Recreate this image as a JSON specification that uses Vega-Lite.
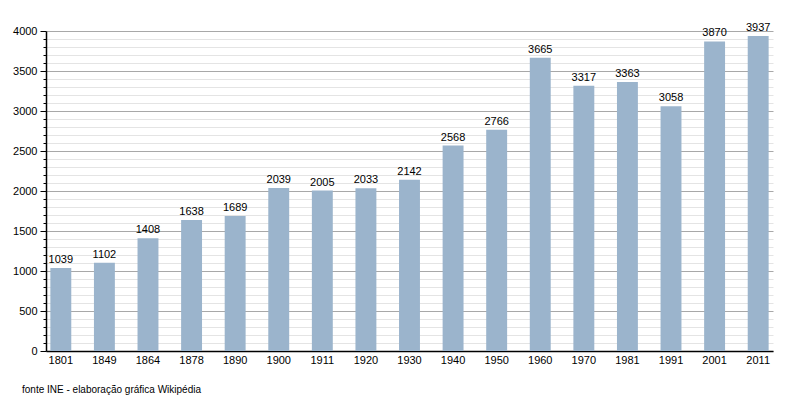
{
  "$schema": "https://vega.github.io/schema/vega-lite/v6.json",
  "autosize": "none",
  "width": 727,
  "height": 320,
  "padding": {"left": 46, "top": 31, "right": 27, "bottom": 49},
  "background": "white",
  "config": {"view": {"stroke": null}, "font": "Liberation Sans"},
  "title": {
    "text": "fonte INE - elaboração gráfica Wikipédia",
    "orient": "bottom",
    "anchor": "start",
    "frame": "group",
    "fontSize": 10,
    "fontWeight": "normal",
    "color": "#000",
    "dx": -24,
    "offset": 20
  },
  "data": {
    "values": [
      {"ano": "1801", "pop": 1039},
      {"ano": "1849", "pop": 1102},
      {"ano": "1864", "pop": 1408},
      {"ano": "1878", "pop": 1638},
      {"ano": "1890", "pop": 1689},
      {"ano": "1900", "pop": 2039},
      {"ano": "1911", "pop": 2005},
      {"ano": "1920", "pop": 2033},
      {"ano": "1930", "pop": 2142},
      {"ano": "1940", "pop": 2568},
      {"ano": "1950", "pop": 2766},
      {"ano": "1960", "pop": 3665},
      {"ano": "1970", "pop": 3317},
      {"ano": "1981", "pop": 3363},
      {"ano": "1991", "pop": 3058},
      {"ano": "2001", "pop": 3870},
      {"ano": "2011", "pop": 3937}
    ]
  },
  "encoding": {
    "x": {
      "field": "ano",
      "type": "ordinal",
      "sort": null,
      "scale": {"paddingInner": 0.52, "paddingOuter": 0.1},
      "axis": {
        "title": null,
        "labelAngle": 0,
        "ticks": false,
        "labelPadding": 3,
        "labelFontSize": 11,
        "labelColor": "#000",
        "domainColor": "#000",
        "domainWidth": 1.5,
        "grid": false
      }
    },
    "y": {
      "field": "pop",
      "type": "quantitative",
      "scale": {"domain": [0, 4000], "nice": false},
      "axis": {
        "title": null,
        "values": [0,100,200,300,400,500,600,700,800,900,1000,1100,1200,1300,1400,1500,1600,1700,1800,1900,2000,2100,2200,2300,2400,2500,2600,2700,2800,2900,3000,3100,3200,3300,3400,3500,3600,3700,3800,3900,4000],
        "labelExpr": "datum.value % 500 === 0 ? datum.label : ''",
        "format": "d",
        "grid": true,
        "gridColor": {"condition": {"test": "datum.value % 500 === 0", "value": "#a8a8a8"}, "value": "#e4e4e4"},
        "gridWidth": 1,
        "tickColor": "#000",
        "tickSize": {"condition": {"test": "datum.value % 500 === 0", "value": 6}, "value": 3},
        "labelPadding": 3,
        "labelFontSize": 11,
        "labelColor": "#000",
        "labelOverlap": false,
        "domainColor": "#000",
        "domainWidth": 1.5
      }
    }
  },
  "layer": [
    {"mark": {"type": "bar", "color": "#9bb4cc"}},
    {
      "mark": {"type": "text", "baseline": "bottom", "dy": -3, "fontSize": 11, "color": "#000"},
      "encoding": {"text": {"field": "pop", "type": "quantitative", "format": "d"}}
    }
  ]
}
